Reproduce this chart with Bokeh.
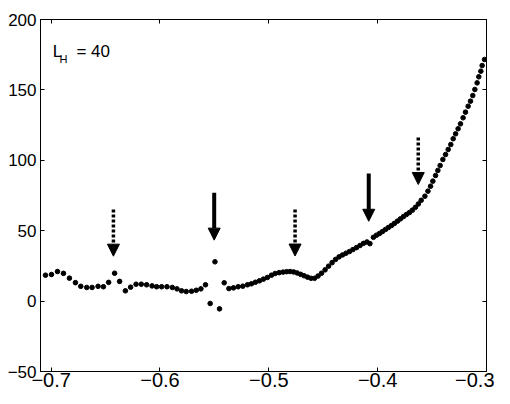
from bokeh.plotting import figure
from bokeh.models import Range1d, LinearAxis, Arrow, NormalHead, Label, FixedTicker
from bokeh.embed import file_html
from bokeh.resources import INLINE

# ---- data ----
x_vals = [
    -0.7052, -0.6997, -0.6942, -0.6887, -0.6832, -0.6777, -0.6728, -0.6673, -0.6624, -0.6569,
    -0.6520, -0.6472, -0.6417, -0.6371, -0.6318, -0.6270, -0.6220, -0.6172, -0.6123, -0.6073,
    -0.6031, -0.5985, -0.5936, -0.5887, -0.5844, -0.5802, -0.5759, -0.5710, -0.5667, -0.5624,
    -0.5582, -0.5539, -0.5495, -0.5453, -0.5410, -0.5367, -0.5325, -0.5282, -0.5239, -0.5196,
    -0.5160, -0.5123, -0.5086, -0.5050, -0.5013, -0.4976,
    -0.4942, -0.4905, -0.4869, -0.4837, -0.4805, -0.4772, -0.4740, -0.4708, -0.4676, -0.4644,
    -0.4612, -0.4580, -0.4548, -0.4516, -0.4483, -0.4451, -0.4419, -0.4387, -0.4355, -0.4323,
    -0.4291, -0.4259, -0.4227, -0.4194, -0.4162, -0.4130, -0.4098, -0.4071, -0.4039, -0.4011,
    -0.3983, -0.3956, -0.3928, -0.3901, -0.3873, -0.3846, -0.3818, -0.3791, -0.3763, -0.3736,
    -0.3708, -0.3681, -0.3653, -0.3626, -0.3600,
    -0.3566, -0.3538, -0.3514, -0.3493, -0.3468, -0.3447, -0.3426, -0.3401, -0.3376, -0.3352,
    -0.3328, -0.3306, -0.3284, -0.3261, -0.3239, -0.3215, -0.3193, -0.3169, -0.3147, -0.3126,
    -0.3107, -0.3086, -0.3071, -0.3052, -0.3040, -0.3018,
]
y_vals = [
    18.4, 18.9, 21.0, 19.7, 16.3, 13.1, 10.5, 9.7, 9.7, 10.5,
    10.2, 13.3, 19.8, 14.0, 7.3, 9.9, 12.0, 12.0, 11.6, 10.8,
    10.2, 10.2, 10.2, 9.7, 8.7, 7.3, 6.8, 7.0, 7.7, 8.7,
    11.6, -1.7, 27.9, -5.5, 13.0, 8.9, 9.4, 10.2, 10.6, 11.6,
    12.3, 13.4, 14.4, 15.6, 16.8, 18.4,
    19.6, 20.2, 20.6, 20.9, 21.0, 20.7, 20.0, 19.0, 18.0, 17.0,
    16.2, 16.2, 17.8, 19.8, 22.2, 24.8, 27.3, 29.6, 31.4, 32.8,
    34.0, 35.2, 36.6, 38.0, 39.5, 41.0, 42.0, 40.8, 45.3, 46.8,
    48.0, 49.4, 50.9, 52.3, 53.7, 55.2, 56.8, 58.4, 60.0, 61.5,
    62.9, 64.6, 66.6, 69.0, 71.6,
    74.5, 78.1, 81.6, 85.2, 89.2, 92.8, 96.3, 100.6, 104.1, 107.7,
    111.2, 115.3, 118.8, 122.4, 125.9, 130.2, 134.2, 138.4, 142.0, 146.0,
    150.3, 155.0, 159.3, 163.3, 167.3, 171.6,
]

x_ticks = [-0.7, -0.6, -0.5, -0.4, -0.3]
x_tick_labels = ["\u22120.7", "\u22120.6", "\u22120.5", "\u22120.4", "\u22120.3"]
y_ticks = [-50, 0, 50, 100, 150, 200]
y_tick_labels = ["\u221250", "0", "50", "100", "150", "200"]

# arrows: x, y_start, y_end, dotted?
arrow_x = [-0.6428, -0.5502, -0.4759, -0.4082, -0.3627]
arrow_y0 = [65.0, 77.0, 65.0, 90.6, 116.2]
arrow_y1 = [31.9, 43.3, 32.0, 56.7, 82.8]
arrow_dotted = [True, False, True, False, True]

FONT = "Liberation Sans"

p = figure(width=494, height=396, output_backend="svg", toolbar_location=None,
           x_range=Range1d(-0.7098, -0.3), y_range=Range1d(-50, 200),
           min_border_left=40, min_border_right=8, min_border_top=19,
           min_border_bottom=25, background_fill_color="white",
           border_fill_color="white")
p.grid.visible = False
p.outline_line_color = "black"

bottom_axis = p.below[0]
left_axis = p.left[0]
bottom_axis.ticker = FixedTicker(ticks=x_ticks)
left_axis.ticker = FixedTicker(ticks=y_ticks)
bottom_axis.major_label_overrides = dict(zip(x_ticks, x_tick_labels))
left_axis.major_label_overrides = dict(zip(y_ticks, y_tick_labels))

top_axis = LinearAxis(ticker=FixedTicker(ticks=x_ticks))
right_axis = LinearAxis(ticker=FixedTicker(ticks=y_ticks))
for ax in (top_axis, right_axis):
    ax.major_label_text_font_size = "1px"
    ax.major_label_text_color = None
    ax.major_label_standoff = 0
p.add_layout(top_axis, "above")
p.add_layout(right_axis, "right")

for ax in (bottom_axis, left_axis, top_axis, right_axis):
    ax.major_tick_in = 4
    ax.major_tick_out = 0
    ax.minor_tick_line_color = None
    ax.axis_line_color = "black"
    ax.major_tick_line_color = "black"
    ax.major_label_text_font = FONT

for ax in (bottom_axis, left_axis):
    ax.major_label_text_color = "black"

bottom_axis.major_label_text_font_size = "20px"
bottom_axis.major_label_standoff = 1
left_axis.major_label_text_font_size = "17px"
left_axis.major_label_standoff = 4

p.scatter(x_vals, y_vals, size=4.6, color="black")

for xa, y0, y1, dotted in zip(arrow_x, arrow_y0, arrow_y1, arrow_dotted):
    head = NormalHead(size=12, fill_color="black", line_color="black", line_width=1)
    arr = Arrow(end=head, x_start=xa, y_start=y0, x_end=xa, y_end=y1,
                line_color="black", line_width=3.5 if dotted else 4,
                line_dash="3 2" if dotted else "solid")
    p.add_layout(arr)

p.add_layout(Label(x=-0.6985, y=177.5, text="L", text_font=FONT,
                   text_font_size="17px", text_baseline="alphabetic", text_color="black"))
p.add_layout(Label(x=-0.6924, y=172.1, text="H", text_font=FONT,
                   text_font_size="11px", text_baseline="alphabetic", text_color="black"))
p.add_layout(Label(x=-0.6768, y=177.5, text="= 40", text_font=FONT,
                   text_font_size="17px", text_baseline="alphabetic", text_color="black"))

open("out.html", "w").write(file_html(p, INLINE))
